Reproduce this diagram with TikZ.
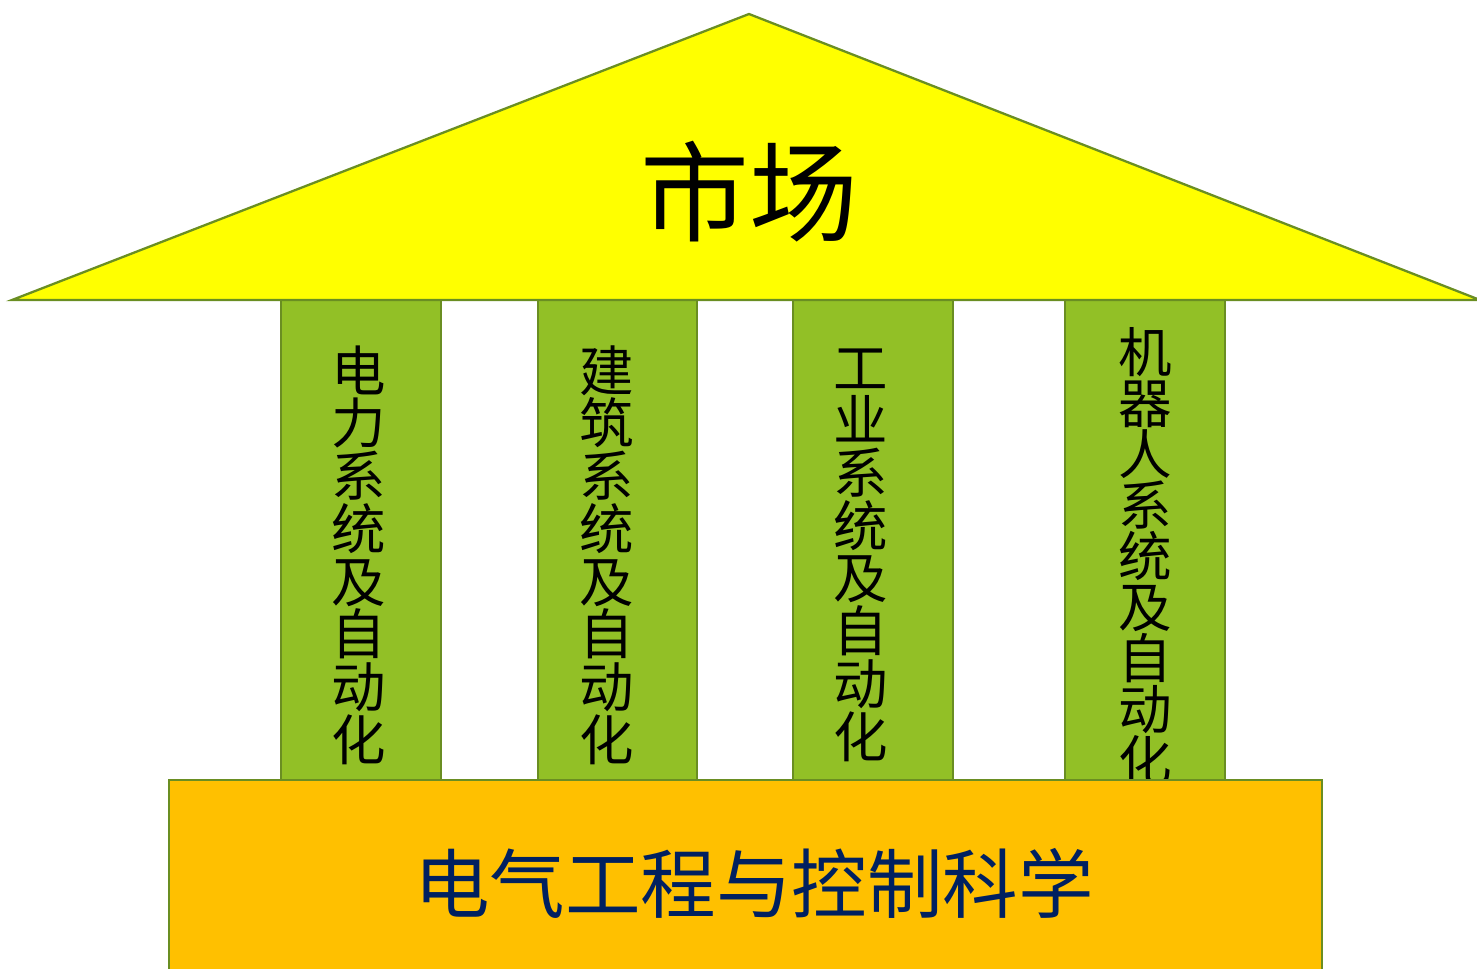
\documentclass[tikz,border=0pt]{standalone}
\usepackage{fontspec}
\setmainfont{Noto Sans CJK SC}
\usepackage{tikz}
\usepackage{xcolor}
\definecolor{roofyellow}{RGB}{255,255,0}
\definecolor{pillargreen}{RGB}{146,192,38}
\definecolor{edgegreen}{RGB}{106,142,34}
\definecolor{baseorange}{RGB}{255,192,0}
\definecolor{basenavy}{RGB}{0,32,96}
\newcommand{\pillarfont}{\fontsize{31}{30}\selectfont}

\begin{document}
\begin{tikzpicture}[x=0.02cm, y=-0.02cm, line width=1.3pt,
    pillartext/.style={align=center, inner sep=0pt, font=\pillarfont}]
                \useasboundingbox (0,0) rectangle (1477,969);
                % Pillars
                \draw[fill=pillargreen, draw=edgegreen] (281,300) rectangle (441,780);
                \draw[fill=pillargreen, draw=edgegreen] (538,300) rectangle (697,780);
                \draw[fill=pillargreen, draw=edgegreen] (793,300) rectangle (953,780);
                \draw[fill=pillargreen, draw=edgegreen] (1065,300) rectangle (1225,780);
                \node[pillartext] (power) at (359,555) {电\\力\\系\\统\\及\\自\\动\\化};
                \node[pillartext] (building) at (607,555) {建\\筑\\系\\统\\及\\自\\动\\化};
                \node[pillartext] (industry) at (861,555) {工\\业\\系\\统\\及\\自\\动\\化};
                \node[pillartext, font=\fontsize{30.5}{29}\selectfont] (robot) at (1145,556) {机\\器\\人\\系\\统\\及\\自\\动\\化};
                % Roof
                \draw[fill=roofyellow, draw=edgegreen, line join=miter] (12,300) -- (749,14) -- (1480,300) -- cycle;
                \node[font=\fontsize{62}{62}\selectfont] (market) at (749,192) {市场};
                % Base
                \draw[fill=baseorange, draw=edgegreen] (169,780) rectangle (1322,990);
                \node[font=\fontsize{43}{43}\selectfont, text=basenavy] (science) at (754,883) {电气工程与控制科学};

            \end{tikzpicture}
\end{document}
